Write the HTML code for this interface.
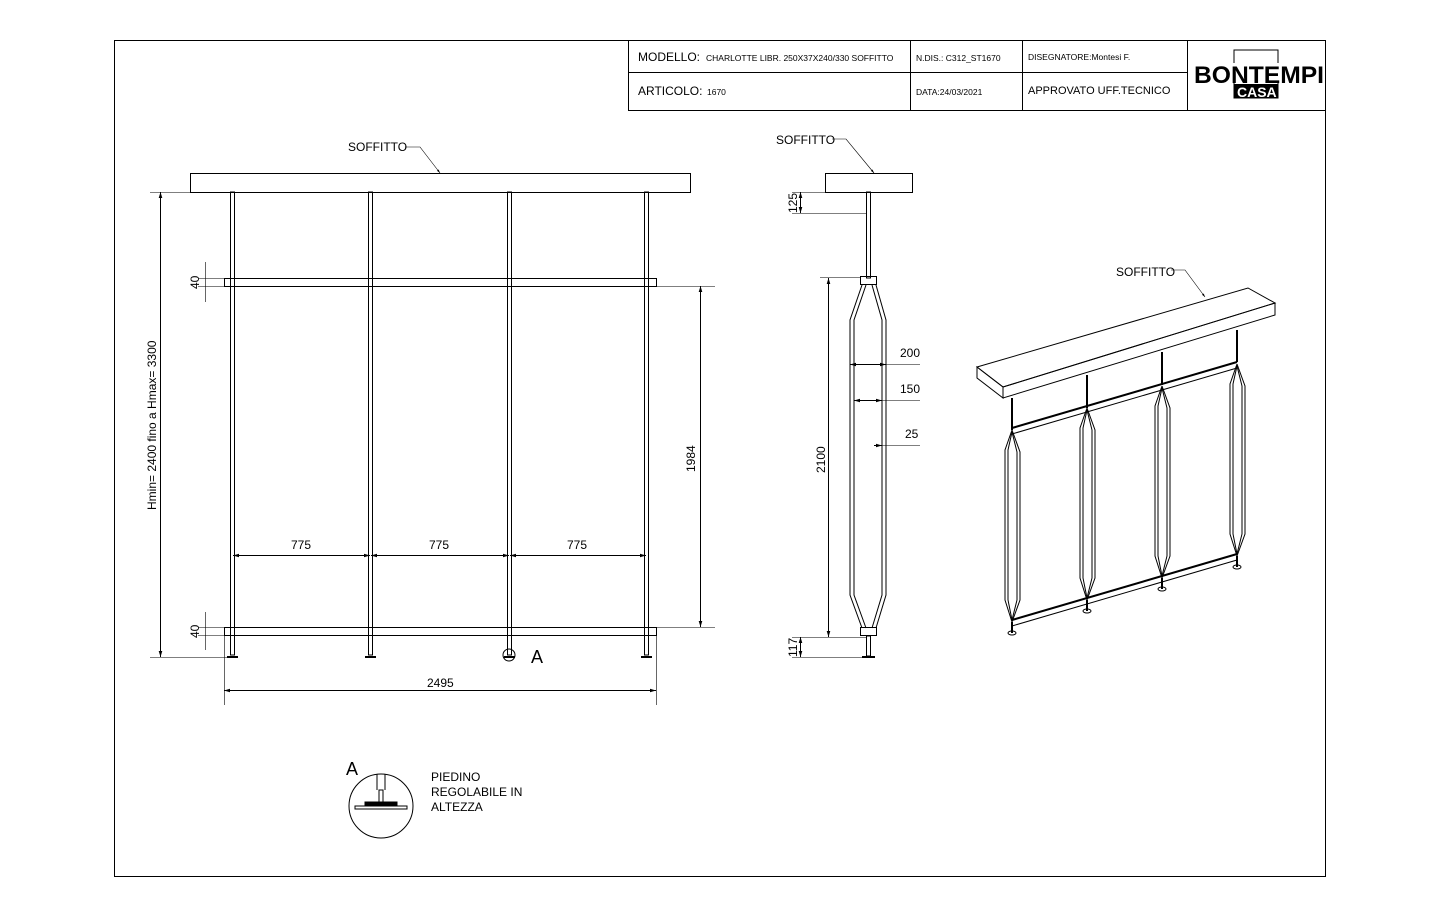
<!DOCTYPE html>
<html><head><meta charset="utf-8"><style>
html,body{margin:0;padding:0;background:#fff}
svg{display:block}
text{font-family:"Liberation Sans",sans-serif;fill:#000}
</style></head><body>
<svg width="1440" height="900" viewBox="0 0 1440 900" xmlns="http://www.w3.org/2000/svg">
<defs>
<marker id="ar" viewBox="0 0 10 10" refX="10" refY="5" markerWidth="8" markerHeight="6" orient="auto-start-reverse"><path d="M0,2 L10,5 L0,8z" fill="#000"/></marker>
</defs>
<rect width="1440" height="900" fill="#fff"/>
<rect x="114.5" y="40.5" width="1211" height="836" fill="none" stroke="#000" stroke-width="1"/>
<g stroke="#000" stroke-width="1" fill="none">
<line x1="628.5" y1="40" x2="628.5" y2="110"/>
<line x1="628" y1="110.5" x2="1326" y2="110.5"/>
<line x1="628" y1="72.5" x2="1187" y2="72.5"/>
<line x1="910.5" y1="40" x2="910.5" y2="110"/>
<line x1="1022.5" y1="40" x2="1022.5" y2="110"/>
<line x1="1187.5" y1="40" x2="1187.5" y2="110"/>
</g>
<text x="638" y="61" font-size="12">MODELLO:</text>
<text x="706" y="61" font-size="8.5">CHARLOTTE LIBR. 250X37X240/330 SOFFITTO</text>
<text x="916" y="61" font-size="8.5">N.DIS.: C312_ST1670</text>
<text x="1028" y="60" font-size="8.5">DISEGNATORE:Montesi F.</text>
<text x="638" y="95" font-size="12">ARTICOLO:</text>
<text x="707" y="95" font-size="8.5">1670</text>
<text x="916" y="95" font-size="8.5">DATA:24/03/2021</text>
<text x="1028" y="94" font-size="11">APPROVATO UFF.TECNICO</text>
<rect x="1234" y="50" width="44" height="48" fill="none" stroke="#000"/>
<rect x="1195" y="63" width="128" height="20" fill="#fff"/>
<text x="1194" y="83" font-size="24" font-weight="bold" textLength="130" lengthAdjust="spacingAndGlyphs">BONTEMPI</text>
<rect x="1234" y="84" width="44" height="14" fill="#000"/>
<text x="1237" y="97" font-size="14" font-weight="bold" fill="#fff" style="fill:#fff">CASA</text>

<g stroke="#000" stroke-width="1" fill="none">
<rect x="190.5" y="173.5" width="500" height="19"/>
<rect x="230.5" y="192" width="4" height="463"/>
<rect x="368.5" y="192" width="4" height="463"/>
<rect x="507.5" y="192" width="4" height="463"/>
<rect x="644.5" y="192" width="4" height="463"/>
<rect x="224.5" y="278.5" width="432" height="8"/>
<rect x="224.5" y="627.5" width="432" height="8"/>
<g stroke-width="2">
<line x1="227" y1="657" x2="238" y2="657"/><line x1="365" y1="657" x2="376" y2="657"/>
<line x1="504" y1="657" x2="515" y2="657"/><line x1="641" y1="657" x2="652" y2="657"/>
</g>
<circle cx="509" cy="655" r="6"/>
<line x1="160.5" y1="192" x2="160.5" y2="657" marker-start="url(#ar)" marker-end="url(#ar)"/>
<line x1="150" y1="192.5" x2="230" y2="192.5" stroke-width="0.6"/>
<line x1="150" y1="657.5" x2="230" y2="657.5" stroke-width="0.6"/>
<line x1="205.5" y1="262" x2="205.5" y2="302" stroke-width="0.6"/>
<line x1="205.5" y1="612" x2="205.5" y2="650" stroke-width="0.6"/>
<line x1="198" y1="278.5" x2="224" y2="278.5" stroke-width="0.6"/>
<line x1="198" y1="286.5" x2="224" y2="286.5" stroke-width="0.6"/>
<line x1="198" y1="627.5" x2="224" y2="627.5" stroke-width="0.6"/>
<line x1="198" y1="635.5" x2="224" y2="635.5" stroke-width="0.6"/>
<line x1="700.5" y1="286" x2="700.5" y2="627" marker-start="url(#ar)" marker-end="url(#ar)"/>
<line x1="656" y1="286.5" x2="715" y2="286.5" stroke-width="0.6"/>
<line x1="656" y1="627.5" x2="715" y2="627.5" stroke-width="0.6"/>
<line x1="233" y1="555.5" x2="370" y2="555.5" marker-start="url(#ar)" marker-end="url(#ar)"/>
<line x1="371" y1="555.5" x2="509" y2="555.5" marker-start="url(#ar)" marker-end="url(#ar)"/>
<line x1="510" y1="555.5" x2="646" y2="555.5" marker-start="url(#ar)" marker-end="url(#ar)"/>
<line x1="224" y1="690.5" x2="656" y2="690.5" marker-start="url(#ar)" marker-end="url(#ar)"/>
<line x1="224.5" y1="636" x2="224.5" y2="705" stroke-width="0.6"/>
<line x1="656.5" y1="636" x2="656.5" y2="705" stroke-width="0.6"/>
<polyline points="405,147 420,147 440,173" stroke-width="0.6" marker-end="url(#ar)"/>

<rect x="825.5" y="173.5" width="87" height="19"/>
<rect x="866.5" y="192" width="4" height="86"/>
<rect x="860.5" y="276.5" width="16" height="8"/>
<rect x="860.5" y="627.5" width="16" height="8"/>
<path d="M862,285 L850,320 L850,595 L862,628 M876,285 L886,320 L886,595 L876,628"/>
<path d="M866,285 L854,320 L854,595 L866,628 M872,285 L882,320 L882,595 L872,628"/>
<rect x="866.5" y="636" width="4" height="20"/>
<line x1="862" y1="657" x2="875" y2="657" stroke-width="2"/>
<line x1="800.5" y1="192" x2="800.5" y2="213" marker-start="url(#ar)" marker-end="url(#ar)"/>
<line x1="792" y1="192.5" x2="825" y2="192.5" stroke-width="0.6"/>
<line x1="792" y1="213.5" x2="866" y2="213.5" stroke-width="0.6"/>
<line x1="828.5" y1="278" x2="828.5" y2="637" marker-start="url(#ar)" marker-end="url(#ar)"/>
<line x1="820" y1="277.5" x2="860" y2="277.5" stroke-width="0.6"/>
<line x1="792" y1="637.5" x2="866" y2="637.5" stroke-width="0.6"/>
<line x1="800.5" y1="637" x2="800.5" y2="657" marker-start="url(#ar)" marker-end="url(#ar)"/>
<line x1="792" y1="657.5" x2="866" y2="657.5" stroke-width="0.6"/>
<line x1="850" y1="364.5" x2="886" y2="364.5" marker-start="url(#ar)" marker-end="url(#ar)"/>
<line x1="886" y1="364.5" x2="920" y2="364.5" stroke-width="0.6"/>
<line x1="854" y1="400.5" x2="882" y2="400.5" marker-start="url(#ar)" marker-end="url(#ar)"/>
<line x1="882" y1="400.5" x2="920" y2="400.5" stroke-width="0.6"/>
<line x1="874" y1="445.5" x2="882" y2="445.5" marker-end="url(#ar)"/>
<line x1="882" y1="445.5" x2="920" y2="445.5" stroke-width="0.6"/>
<polyline points="832,139 846,139 874,173" stroke-width="0.6" marker-end="url(#ar)"/>

<polygon points="977,367 1248,288 1275,303 1003,387"/>
<polygon points="1003,387 1275,303 1275,315 1003,398"/>
<polygon points="977,367 1003,387 1003,398 977,378"/>
<g stroke-width="2">
<line x1="1012" y1="398" x2="1012" y2="430"/><line x1="1087" y1="375" x2="1087" y2="408"/>
<line x1="1162" y1="352" x2="1162" y2="385"/><line x1="1237" y1="330" x2="1237" y2="362"/>
<line x1="1012" y1="428" x2="1237" y2="362"/><line x1="1012" y1="620" x2="1237" y2="554"/>
</g>
<line x1="1012" y1="434" x2="1237" y2="368"/><line x1="1012" y1="626" x2="1237" y2="560"/>
<g id="loop">
<path d="M1012,430 L1005,450 L1005,600 L1012,622 M1012,430 L1020,452 L1020,600 L1012,622"/>
<path d="M1012,432 L1008,450 L1008,600 L1012,620 M1012,432 L1017,452 L1017,600 L1012,620"/>
<line x1="1012" y1="622" x2="1012" y2="633" stroke-width="2"/>
<ellipse cx="1012" cy="633" rx="4" ry="2"/>
</g>
<use href="#loop" transform="translate(75,-22)"/>
<use href="#loop" transform="translate(150,-44)"/>
<use href="#loop" transform="translate(225,-66)"/>
<polyline points="1171,270 1185,270 1205,297" stroke-width="0.6" marker-end="url(#ar)"/>

<circle cx="381" cy="806" r="32"/>
<path d="M377,774 L377,790 M385,774 L385,790"/>
<rect x="379" y="790" width="4" height="12"/>
<rect x="365" y="802" width="32" height="4" fill="#000"/>
<rect x="355" y="806" width="52" height="3"/>
</g>

<g font-size="12">
<text x="348" y="151">SOFFITTO</text>
<text x="776" y="144">SOFFITTO</text>
<text x="1116" y="276">SOFFITTO</text>
<text x="291" y="549">775</text>
<text x="429" y="549">775</text>
<text x="567" y="549">775</text>
<text x="427" y="687">2495</text>
<text transform="translate(156,510) rotate(-90)">Hmin= 2400 fino a Hmax= 3300</text>
<text transform="translate(199,289) rotate(-90)">40</text>
<text transform="translate(199,638) rotate(-90)">40</text>
<text transform="translate(695,472) rotate(-90)">1984</text>
<text transform="translate(797,213) rotate(-90)">125</text>
<text transform="translate(825,473) rotate(-90)">2100</text>
<text transform="translate(797,657) rotate(-90)">117</text>
<text x="900" y="357">200</text>
<text x="900" y="393">150</text>
<text x="905" y="438">25</text>
<text x="431" y="781">PIEDINO</text>
<text x="431" y="796">REGOLABILE IN</text>
<text x="431" y="811">ALTEZZA</text>
</g>
<text x="531" y="663" font-size="18">A</text>
<text x="346" y="775" font-size="18">A</text>
</svg>
</body></html>
